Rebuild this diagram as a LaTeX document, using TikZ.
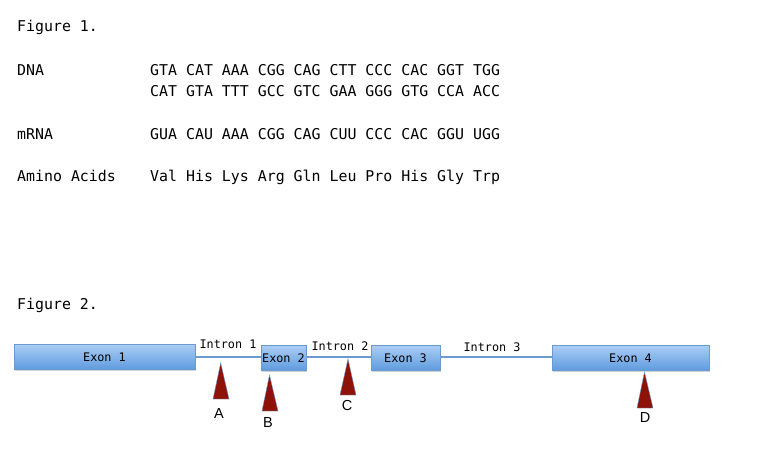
\documentclass[tikz,border=0pt]{standalone}
\usepackage{fontspec}
\setmonofont{DejaVu Sans Mono}
\newfontfamily\labelfont{Liberation Sans}
\usetikzlibrary{shadows}
\definecolor{exontop}{HTML}{A9CDF5}
\definecolor{exonbot}{HTML}{5E9BDE}
\definecolor{exonline}{HTML}{6A9AD0}
\definecolor{sitered}{HTML}{8E1207}
\tikzset{
  seqtext/.style={anchor=base west, inner sep=0pt, font=\ttfamily\fontsize{14.9}{17}\selectfont},
  exonbox/.style={draw=exonline, line width=0.8pt, top color=exontop, bottom color=exonbot,
    minimum height=25pt, inner sep=0pt, font=\ttfamily\fontsize{11.8}{14}\selectfont,
    drop shadow={shadow xshift=1pt, shadow yshift=-1.5pt, opacity=0.35}},
  introntext/.style={inner sep=0pt, font=\ttfamily\fontsize{11.8}{14}\selectfont},
  intronline/.style={draw=exonline, line width=2.2pt},
  site/.style={fill=sitered, draw=exonline, line width=0.4pt, line join=miter},
  sitelabel/.style={inner sep=0pt, font=\labelfont\fontsize{14.5}{16}\selectfont}
}
\begin{document}
\begin{tikzpicture}[x=1pt,y=-1pt]
\useasboundingbox (0,0) rectangle (772,453);

% Figure 1
\node[seqtext] (fig1) at (17,31) {Figure 1.};
\node[seqtext] (dnalab) at (17,75) {DNA};
\node[seqtext] (dnaone) at (150,75) {GTA CAT AAA CGG CAG CTT CCC CAC GGT TGG};
\node[seqtext] (dnatwo) at (150,96) {CAT GTA TTT GCC GTC GAA GGG GTG CCA ACC};
\node[seqtext] (mrnalab) at (17,139) {mRNA};
\node[seqtext] (mrna) at (150,139) {GUA CAU AAA CGG CAG CUU CCC CAC GGU UGG};
\node[seqtext] (aalab) at (17,181) {Amino Acids};
\node[seqtext] (aa) at (150,181) {Val His Lys Arg Gln Leu Pro His Gly Trp};

% Figure 2
\node[seqtext] (fig2) at (17,309) {Figure 2.};

\node[exonbox, minimum width=181pt] (ex1) at (104.5,357) {Exon 1};
\node[exonbox, minimum width=45pt] (ex2) at (283.5,358) {Exon 2};
\node[exonbox, minimum width=69pt] (ex3) at (405.5,358) {Exon 3};
\node[exonbox, minimum width=157pt] (ex4) at (630.5,358) {Exon 4};

\draw[intronline] (ex1.east) -- (ex2.west |- ex1.east);
\draw[intronline] (ex2.east |- ex1.east) -- (ex3.west |- ex1.east);
\draw[intronline] (ex3.east |- ex1.east) -- (ex4.west |- ex1.east);

\node[introntext] (in1) at (228,344) {Intron 1};
\node[introntext] (in2) at (340,346) {Intron 2};
\node[introntext] (in3) at (492,347) {Intron 3};

% sites
\draw[site] (213,399) -- (220.7,363) -- (229,399) -- cycle;
\draw[site] (262,411) -- (269.5,375) -- (278,411) -- cycle;
\draw[site] (340,395) -- (348,359) -- (356,395) -- cycle;
\draw[site] (637,408) -- (644.5,372) -- (653,408) -- cycle;

\node[sitelabel] (sa) at (219,414) {A};
\node[sitelabel] (sb) at (268,423) {B};
\node[sitelabel] (sc) at (347,406) {C};
\node[sitelabel] (sd) at (645,418) {D};
\end{tikzpicture}
\end{document}
